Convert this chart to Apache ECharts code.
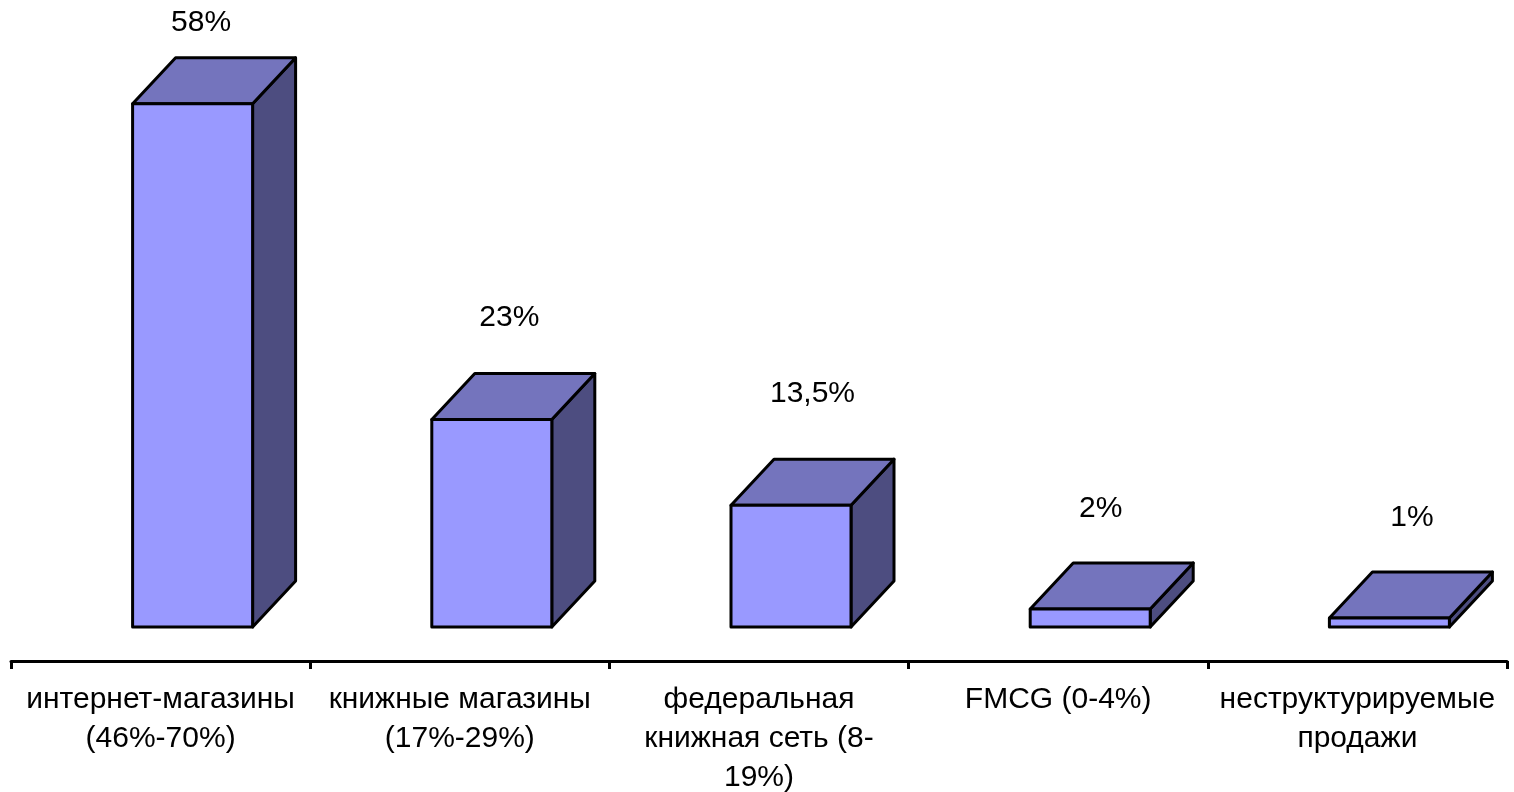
<!DOCTYPE html>
<html>
<head>
<meta charset="utf-8">
<style>
    html, body { margin: 0; padding: 0; background: #fff; }
    #chart { width: 1514px; height: 792px; }
</style>
<script src="https://cdn.jsdelivr.net/npm/echarts@6/dist/echarts.min.js"></script>
</head>
<body>
<div id="chart"></div>
<script>
// Data
const categories = [
    'интернет-магазины\n(46%-70%)',
    'книжные магазины\n(17%-29%)',
    'федеральная\nкнижная сеть (8-\n19%)',
    'FMCG (0-4%)',
    'неструктурируемые\nпродажи'
];
const shares = [58, 23, 13.5, 2, 1];
const shareLabels = ['58%', '23%', '13,5%', '2%', '1%'];

// Label placement relative to the top back edge of each box
const labelShiftX = [-13, -4, 0, -11, 1];
const labelShiftY = [-35, -56, -65, -54, -54];

// Box geometry
const barWidth = 120;
const barOffset = 32;
const depthX = 43;
const depthY = 46;

const fontFamily = '"Liberation Sans", Arial, sans-serif';
const strokeStyle = { stroke: '#000', lineWidth: 3, lineJoin: 'round' };

const chart = echarts.init(document.getElementById('chart'));

/**
 * Draws one box: front, top and side faces plus the value label
 */
function renderBox(params, api) {
    const index = api.value(0);
    const top = api.coord([index, api.value(1)]);
    const base = api.coord([index, 0]);
    const left = top[0] + barOffset - barWidth / 2;
    const right = left + barWidth;

    return {
        type: 'group',
        children: [
            {
                type: 'polygon',
                shape: { points: [[right, top[1]], [right + depthX, top[1] - depthY], [right + depthX, base[1] - depthY], [right, base[1]]] },
                style: { fill: '#4d4d80', ...strokeStyle }
            },
            {
                type: 'polygon',
                shape: { points: [[left, top[1]], [left + depthX, top[1] - depthY], [right + depthX, top[1] - depthY], [right, top[1]]] },
                style: { fill: '#7474bd', ...strokeStyle }
            },
            {
                type: 'rect',
                shape: { x: left, y: top[1], width: barWidth, height: base[1] - top[1] },
                style: { fill: '#9999ff', ...strokeStyle }
            },
            {
                type: 'text',
                x: top[0] + barOffset + depthX / 2 + labelShiftX[params.dataIndex],
                y: top[1] - depthY + labelShiftY[params.dataIndex],
                style: {
                    text: shareLabels[params.dataIndex],
                    fill: '#000',
                    font: `30px ${fontFamily}`,
                    align: 'center',
                    verticalAlign: 'middle'
                }
            }
        ]
    };
}

const options = {
    backgroundColor: '#fff',
    animation: false,
    grid: {
        top: 0,
        bottom: 131,
        left: 11,
        right: 7,
        outerBoundsMode: 'none'
    },
    xAxis: {
        type: 'category',
        data: categories,
        boundaryGap: true,
        axisLine: {
            onZero: false,
            lineStyle: { color: '#000', width: 3 }
        },
        axisTick: {
            show: true,
            alignWithLabel: false,
            length: 8,
            lineStyle: { color: '#000', width: 3 }
        },
        axisLabel: {
            interval: 0,
            color: '#000',
            fontFamily: fontFamily,
            fontSize: 30,
            lineHeight: 39,
            margin: 19
        }
    },
    yAxis: {
        type: 'value',
        min: -3.77,
        max: 69.5,
        show: false
    },
    series: [
        {
            type: 'custom',
            renderItem: renderBox,
            clip: false,
            data: shares.map((value, index) => [index, value])
        }
    ]
};

chart.setOption(options);
</script>
</body>
</html>
